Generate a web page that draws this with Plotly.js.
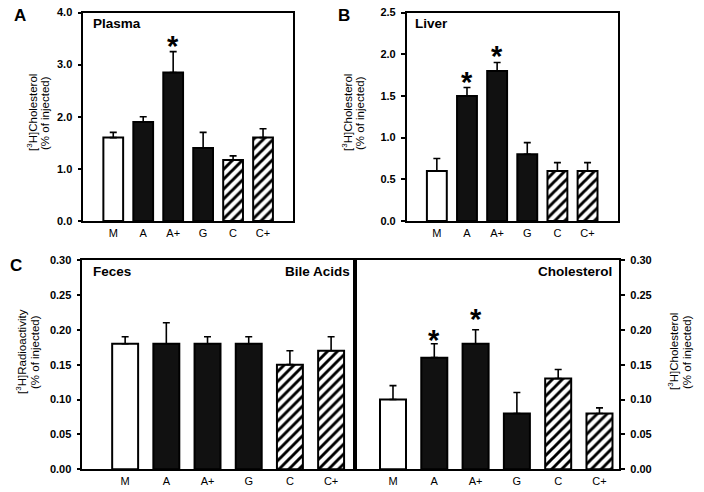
<!DOCTYPE html>
<html>
<head>
<meta charset="utf-8">
<script src="https://cdn.plot.ly/plotly-3.0.1.min.js"></script>
<style>html,body{margin:0;padding:0;background:#fff;}#chart{width:704px;height:492px;}</style>
</head>
<body>
<div id="chart"></div>
<script>
// ---- data ----
var categories = ['M', 'A', 'A+', 'G', 'C', 'C+'];
var fillKinds  = ['open', 'solid', 'solid', 'solid', 'hatch', 'hatch'];

var plasmaMean = [1.60, 1.90, 2.85, 1.40, 1.17, 1.60];
var plasmaErr  = [0.10, 0.10, 0.40, 0.30, 0.08, 0.17];
var plasmaStar = [null, null, 3.41, null, null, null];

var liverMean = [0.60, 1.50, 1.80, 0.80, 0.60, 0.60];
var liverErr  = [0.15, 0.10, 0.10, 0.14, 0.10, 0.10];
var liverStar = [null, 1.70, 2.01, null, null, null];

var bileMean = [0.18, 0.18, 0.18, 0.18, 0.15, 0.17];
var bileErr  = [0.01, 0.03, 0.01, 0.01, 0.02, 0.02];

var fecalCholMean = [0.10, 0.16, 0.18, 0.08, 0.13, 0.08];
var fecalCholErr  = [0.02, 0.02, 0.02, 0.03, 0.013, 0.008];
var fecalCholStar = [null, 0.190, 0.220, null, null, null];

var yTitleChol  = ['[<sup>3</sup>H]Cholesterol', '(% of injected)'];
var yTitleRadio = ['[<sup>3</sup>H]Radioactivity', '(% of injected)'];

// ---- helpers ----
var FONT = 'Liberation Sans, Arial, Helvetica, sans-serif';
var W = 704, H = 492;
function px(x) { return x / W; }
function py(y) { return 1 - y / H; }

function pick(arr, hatched) {
  var out = [];
  arr.forEach(function (v, i) { if ((fillKinds[i] === 'hatch') === hatched) out.push(v); });
  return out;
}

function barTraces(mean, err, xa, ya, width) {
  var errStyle = function (e) {
    return {type: 'data', symmetric: false, array: e, arrayminus: e.map(function () { return 0; }),
            color: '#000', thickness: 1.6, width: 3.5};
  };
  var plain = {
    type: 'bar', x: pick(categories, false), y: pick(mean, false), xaxis: xa, yaxis: ya, width: width,
    marker: {color: pick(fillKinds, false).map(function (k) { return k === 'solid' ? '#111111' : '#ffffff'; }),
             line: {color: '#000', width: 2}},
    error_y: errStyle(pick(err, false)), hoverinfo: 'skip', showlegend: false
  };
  var hatched = {
    type: 'bar', x: pick(categories, true), y: pick(mean, true), xaxis: xa, yaxis: ya, width: width,
    marker: {color: '#000000', line: {color: '#000', width: 2},
             pattern: {shape: '/', fgcolor: '#000000', bgcolor: '#ffffff', size: 7, solidity: 0.42, fillmode: 'replace'}},
    error_y: errStyle(pick(err, true)), hoverinfo: 'skip', showlegend: false
  };
  return [plain, hatched];
}

function starAnns(stars, xref, yref) {
  var out = [];
  stars.forEach(function (s, i) {
    if (s === null) return;
    out.push({xref: xref, yref: yref, x: categories[i], y: s, text: '*', showarrow: false,
              xanchor: 'center', yanchor: 'middle', yshift: -3,
              font: {family: FONT, size: 29, color: '#000', weight: 'bold'}});
  });
  return out;
}

function xAxis(domain, anchor, range) {
  return {domain: domain, anchor: anchor, type: 'category', categoryorder: 'array', categoryarray: categories,
          range: range, ticks: '', showline: true, mirror: true, linecolor: '#000', linewidth: 1.6,
          showgrid: false, zeroline: false, ticklabelstandoff: 1, automargin: false,
          tickfont: {family: FONT, size: 11, color: '#000'}};
}
function yAxis(domain, anchor, range, dtick, fmt, side) {
  return {domain: domain, anchor: anchor, range: range, dtick: dtick, tick0: 0, tickformat: fmt,
          side: side || 'left', ticks: 'outside', ticklen: 4, tickwidth: 1.5, tickcolor: '#000',
          showline: true, mirror: true, linecolor: '#000', linewidth: 1.6,
          showgrid: false, zeroline: false, ticklabelstandoff: 3, automargin: false,
          tickfont: {family: FONT, size: 11, color: '#000', weight: 'bold'}};
}

function textAnn(text, x, y, xanchor, size, bold, angle) {
  return {xref: 'paper', yref: 'paper', x: px(x), y: py(y), text: text, showarrow: false,
          xanchor: xanchor, yanchor: 'middle', textangle: angle || 0,
          font: {family: FONT, size: size, color: '#000', weight: bold ? 'bold' : 'normal'}};
}

var data = []
  .concat(barTraces(plasmaMean, plasmaErr, 'x', 'y', 0.66))
  .concat(barTraces(liverMean, liverErr, 'x2', 'y2', 0.66))
  .concat(barTraces(bileMean, bileErr, 'x3', 'y3', 0.63))
  .concat(barTraces(fecalCholMean, fecalCholErr, 'x4', 'y4', 0.63));

var annotations = [
  textAnn('A', 12, 15, 'left', 17, true),
  textAnn('B', 336, 15, 'left', 17, true),
  textAnn('C', 8, 265, 'left', 17, true),
  textAnn('Plasma', 91, 23, 'left', 13.5, true),
  textAnn('Liver', 413, 23, 'left', 13.5, true),
  textAnn('Feces', 91, 271, 'left', 13.5, true),
  textAnn('Bile Acids', 352, 271, 'right', 13.5, true),
  textAnn('Cholesterol', 614, 271, 'right', 13.5, true),
  textAnn(yTitleChol[0], 32, 113, 'center', 11.5, false, -90),
  textAnn(yTitleChol[1], 45, 113, 'center', 11.5, false, -90),
  textAnn(yTitleChol[0], 347, 113, 'center', 11.5, false, -90),
  textAnn(yTitleChol[1], 360, 113, 'center', 11.5, false, -90),
  textAnn(yTitleRadio[0], 21, 352, 'center', 11.5, false, -90),
  textAnn(yTitleRadio[1], 35, 352, 'center', 11.5, false, -90),
  textAnn(yTitleChol[0], 673, 352, 'center', 11.5, false, -90),
  textAnn(yTitleChol[1], 687, 352, 'center', 11.5, false, -90)
].concat(starAnns(plasmaStar, 'x', 'y'))
 .concat(starAnns(liverStar, 'x2', 'y2'))
 .concat(starAnns(fecalCholStar, 'x4', 'y4'));

var layout = {
  width: W, height: H, margin: {l: 0, r: 0, t: 0, b: 0, pad: 0},
  paper_bgcolor: '#fff', plot_bgcolor: '#fff', showlegend: false, barmode: 'overlay',
  font: {family: FONT, color: '#000'},
  xaxis:  xAxis([px(83.3), px(293)], 'y', [-1, 6]),
  yaxis:  yAxis([py(221), py(12.5)], 'x', [0, 4], 1, '.1f'),
  xaxis2: xAxis([px(406.7), px(617.7)], 'y2', [-1, 6]),
  yaxis2: yAxis([py(221), py(12.5)], 'x2', [0, 2.5], 0.5, '.1f'),
  xaxis3: xAxis([px(82.3), px(355)], 'y3', [-1.04, 5.58]),
  yaxis3: yAxis([py(469.3), py(260)], 'x3', [0, 0.3], 0.05, '.2f'),
  xaxis4: xAxis([px(355), px(619.3)], 'y4', [-0.92, 5.48]),
  yaxis4: yAxis([py(469.3), py(260)], 'x4', [0, 0.3], 0.05, '.2f', 'right'),
  annotations: annotations
};

Plotly.newPlot('chart', data, layout, {displayModeBar: false});
</script>
</body>
</html>
